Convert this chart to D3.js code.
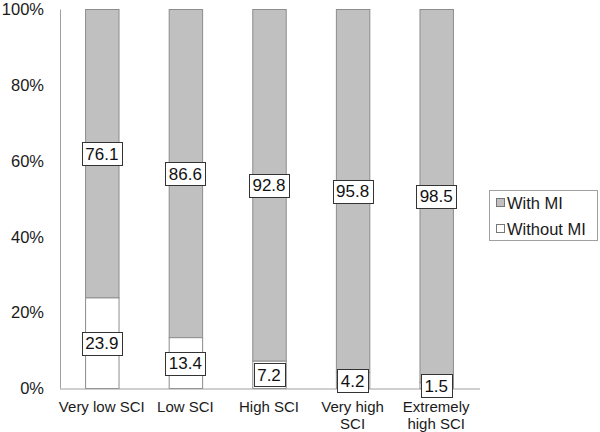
<!DOCTYPE html>
<html><head><meta charset="utf-8">
<script src="https://cdn.jsdelivr.net/npm/d3@7"></script>
<style>body{margin:0;background:#fff}svg{display:block;font-family:"Liberation Sans",Arial,sans-serif}</style>
</head><body>
<svg id="c" width="600" height="432"></svg>
<script>
const categories = [["Very low SCI"], ["Low SCI"], ["High SCI"], ["Very high", "SCI"], ["Extremely", "high SCI"]];
const withoutMI = [23.9, 13.4, 7.2, 4.2, 1.5];
const withMI = [76.1, 86.6, 92.8, 95.8, 98.5];
const yTicks = [0, 20, 40, 60, 80, 100];
const seriesNames = ["With MI", "Without MI"];

const svg = d3.select("#c");
const x = d3.scaleBand().domain(d3.range(categories.length)).range([60, 478]).paddingInner(0.6).paddingOuter(0.3);
const y = d3.scaleLinear().domain([0, 100]).range([388.5, 9.5]);

// y axis
svg.append("line").attr("x1", 60.5).attr("x2", 60.5).attr("y1", y(100)).attr("y2", y(0)).attr("stroke", "#a0a0a0");
svg.append("g").selectAll("text").data(yTicks).join("text")
  .attr("x", 44).attr("y", d => y(d)).attr("dy", "0.35em").attr("text-anchor", "end")
  .attr("font-size", 16.5).attr("fill", "#1a1a1a").text(d => d + "%");

// bars
const g = svg.append("g");
categories.forEach((c, i) => {
  const x0 = x(i), w = x.bandwidth();
  g.append("rect").attr("x", x0 + 0.5).attr("y", y(100)).attr("width", w).attr("height", y(withoutMI[i]) - y(100))
    .attr("fill", "#c0c0c0").attr("stroke", "#8c8c8c");
  g.append("rect").attr("x", x0 + 0.5).attr("y", y(withoutMI[i])).attr("width", w).attr("height", y(0) - y(withoutMI[i]))
    .attr("fill", "#fff").attr("stroke", "#8c8c8c");
});

// x axis
svg.append("line").attr("x1", 60).attr("x2", 480).attr("y1", y(0) + 0.5).attr("y2", y(0) + 0.5).attr("stroke", "#a0a0a0");

// category labels
categories.forEach((c, i) => {
  const t = svg.append("text").attr("x", x(i) + x.bandwidth() / 2).attr("y", 412).attr("text-anchor", "middle")
    .attr("font-size", 15).attr("fill", "#1a1a1a");
  c.forEach((line, j) => t.append("tspan").attr("x", x(i) + x.bandwidth() / 2).attr("dy", j === 0 ? 0 : 17).text(line));
});

// data labels
function label(cx, cy, txt) {
  const gg = svg.append("g");
  const t = gg.append("text").attr("x", cx).attr("y", cy).attr("dy", "0.36em").attr("text-anchor", "middle")
    .attr("font-size", 17).attr("fill", "#111").text(txt);
  const bb = t.node().getBBox();
  gg.insert("rect", "text").attr("x", Math.round(bb.x - 3.5) + 0.5).attr("y", Math.round(cy - 11.5) + 0.5)
    .attr("width", Math.round(bb.width + 7)).attr("height", 23).attr("fill", "#fff").attr("stroke", "#333");
}
categories.forEach((c, i) => {
  const cx = x(i) + x.bandwidth() / 2;
  label(cx, (y(withoutMI[i]) + y(100)) / 2, withMI[i].toFixed(1));
  label(cx, (y(0) + y(withoutMI[i])) / 2, withoutMI[i].toFixed(1));
});

// legend
svg.append("rect").attr("x", 489.5).attr("y", 190.5).attr("width", 108).attr("height", 50).attr("fill", "#fff").attr("stroke", "#a0a0a0");
const fills = ["#c0c0c0", "#fff"];
seriesNames.forEach((n, i) => {
  const yy = 203 + i * 26;
  svg.append("rect").attr("x", 496.5).attr("y", yy - 4.5).attr("width", 8).attr("height", 8).attr("fill", fills[i]).attr("stroke", "#777");
  svg.append("text").attr("x", 507).attr("y", yy).attr("dy", "0.36em").attr("font-size", 16.5).attr("fill", "#1a1a1a").text(n);
});
</script>
</body></html>
